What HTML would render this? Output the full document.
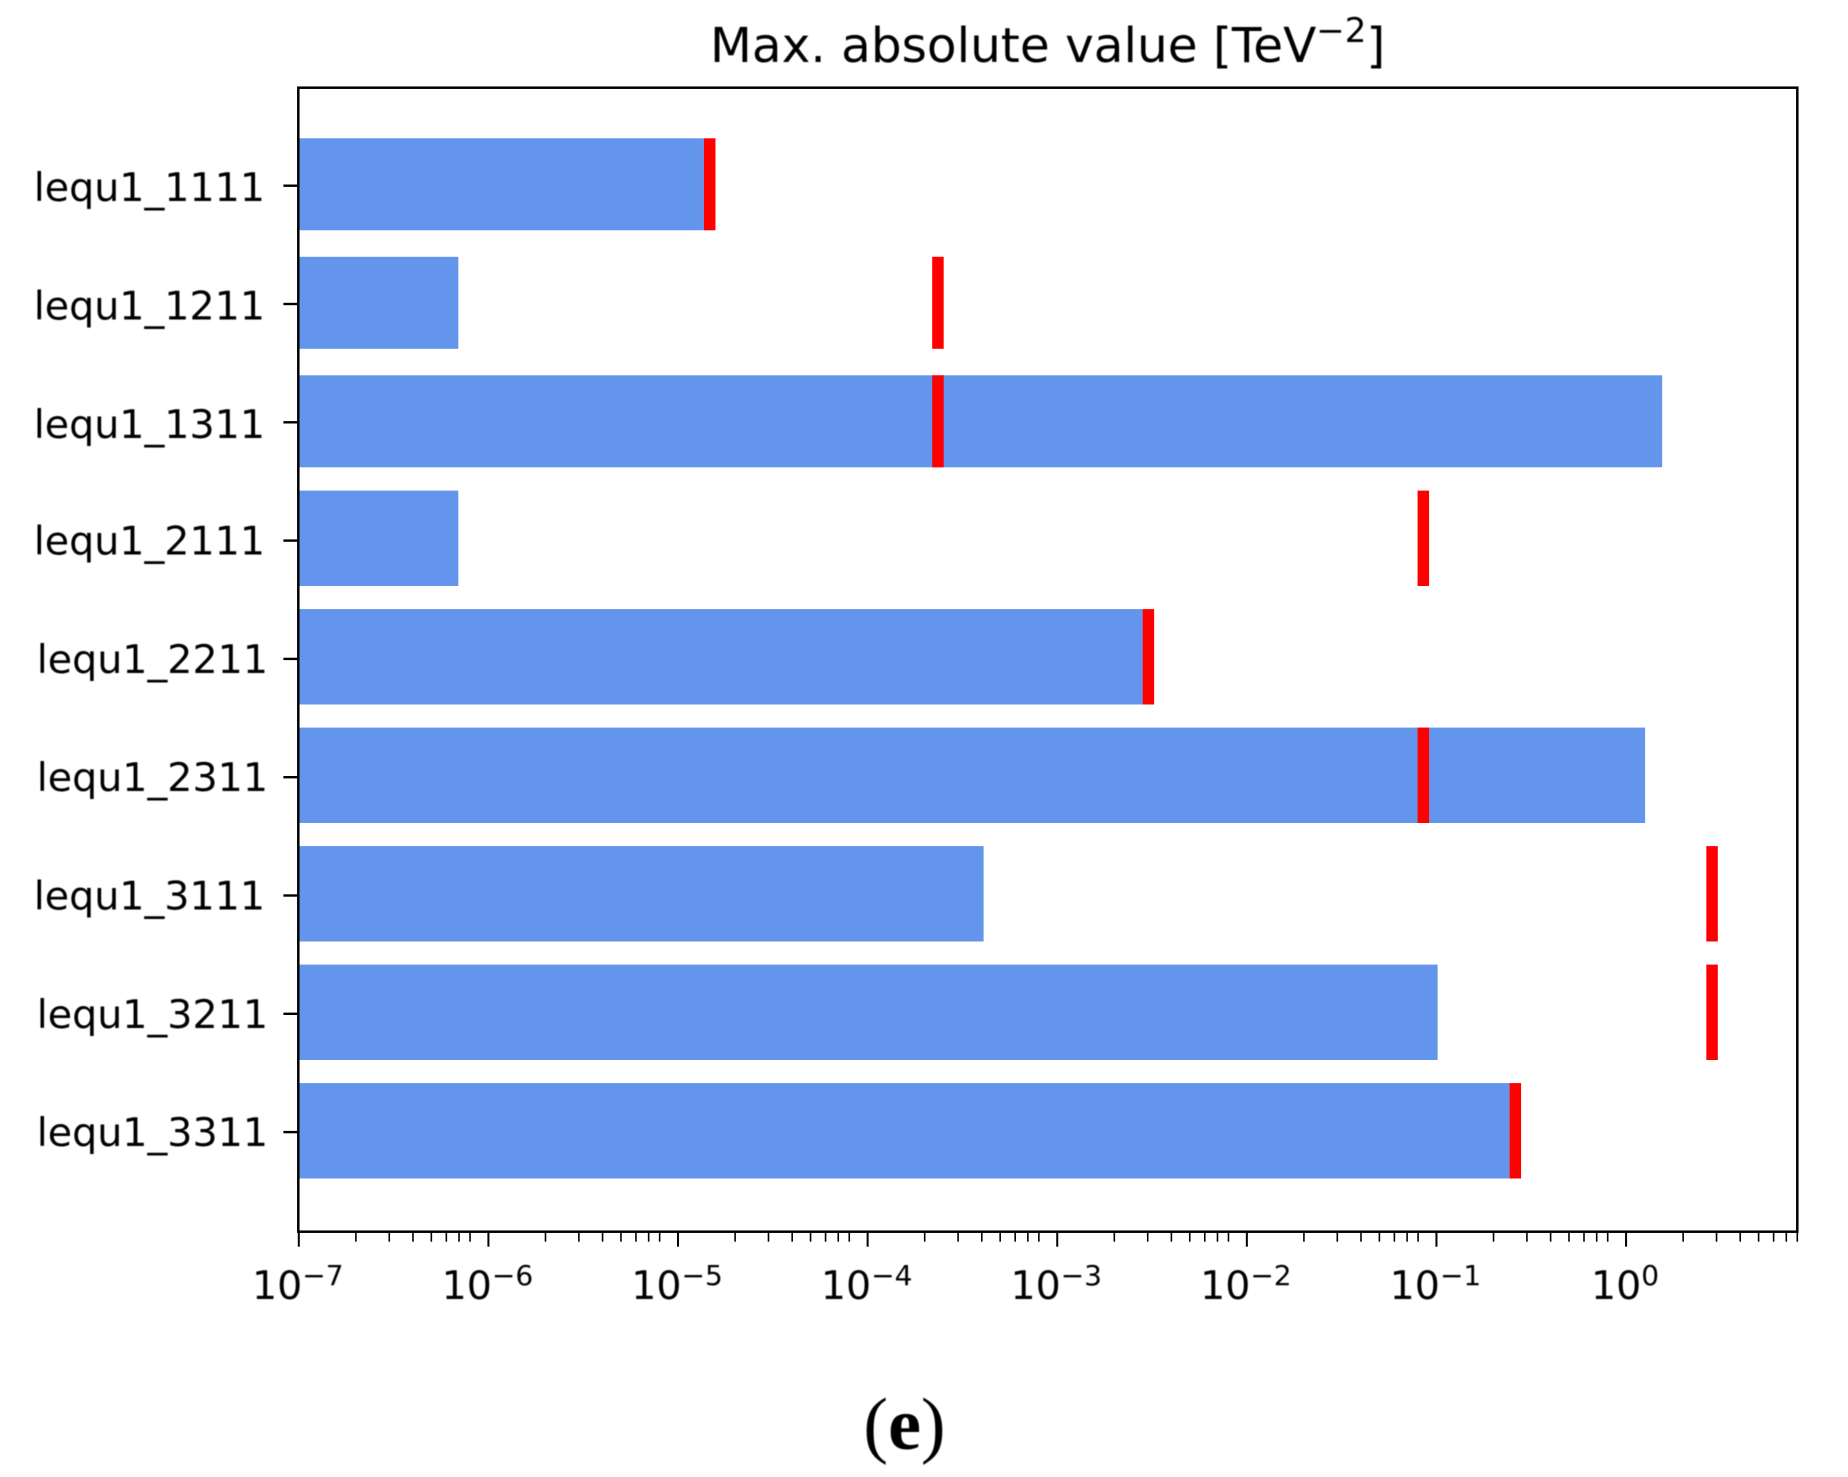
<!DOCTYPE html>
<html lang="en">
<head>
<meta charset="utf-8">
<title>Max. absolute value chart</title>
<style>
  html, body { margin: 0; padding: 0; background: #fff; }
  body { width: 1848px; height: 1477px; overflow: hidden; }
  svg { display: block; }
  text { font-family: "DejaVu Sans", sans-serif; fill: #000; }
  .soft { filter: blur(0.55px); }
  .caption { font-family: "Liberation Serif", serif; fill: #000; }
</style>
</head>
<body>
<svg id="chart" xmlns="http://www.w3.org/2000/svg" width="1848" height="1477" viewBox="0 0 1848 1477">
  <g id="bars"></g>
  <g id="limits"></g>
  <rect x="298.3" y="87.7" width="1499" height="1144" fill="none" stroke="#000" stroke-width="2.5"/>
  <g id="yticks"></g>
  <g id="xticks"></g>
  <text class="soft" x="1047.7" y="62" font-size="48.5" text-anchor="middle">Max. absolute value [TeV<tspan dy="-20" font-size="34">−2</tspan><tspan dy="20">]</tspan></text>
  <text class="caption soft" x="904.5" y="1449" font-size="74" text-anchor="middle">(<tspan font-weight="bold">e</tspan>)</text>
</svg>
<script>
const categories = ["lequ1_1111", "lequ1_1211", "lequ1_1311", "lequ1_2111", "lequ1_2211", "lequ1_2311", "lequ1_3111", "lequ1_3211", "lequ1_3311"];
const barValues = [1.37e-5, 6.94e-7, 1.55, 6.94e-7, 2.82e-3, 1.26, 4.09e-4, 0.1014, 0.243];
const limitValues = [1.37e-5, 2.19e-4, 2.19e-4, 0.0795, 2.82e-3, 0.0795, 2.65, 2.65, 0.243];
const tickExponents = [-7, -6, -5, -4, -3, -2, -1, 0];
const minorMultipliers = [2, 3, 4, 5, 6, 7, 8];

const SVG_NS = "http://www.w3.org/2000/svg";
const plotLeft = 298.8, plotRight = 1797.3, plotBottom = 1231.7;
const logMin = -7, logMax = Math.log10(8);
const limitWidthFactor = 1.15;

function xScale(v) {
  return plotLeft + (Math.log10(v) - logMin) * (plotRight - plotLeft) / (logMax - logMin);
}
function rowTop(i) {
  return i < 3 ? 138.3 + 118.5 * i : 135.1 + 118.5 * i;
}
function rowHeight(i) {
  return i < 3 ? 92 : 95.4;
}
function tickY(i) {
  return 185.7 + 118.3 * i;
}
function labelRight(cat) {
  return /_(22|23|32|33)/.test(cat) ? 268 : 265;
}
function labelY(i) {
  return tickY(i) + (i < 3 ? 15.5 : 14);
}
function make(tag, parent, attrs) {
  const el = document.createElementNS(SVG_NS, tag);
  for (const k in attrs) el.setAttribute(k, attrs[k]);
  parent.appendChild(el);
  return el;
}

const barsGroup = document.getElementById("bars");
const limitsGroup = document.getElementById("limits");
const yGroup = document.getElementById("yticks");
const xGroup = document.getElementById("xticks");

categories.forEach(function (cat, i) {
  const bar = make("rect", barsGroup, {
    x: plotLeft, y: rowTop(i),
    width: xScale(barValues[i]) - plotLeft, height: rowHeight(i),
    fill: "#6495ed"
  });
  
  

  const left = xScale(limitValues[i]);
  const marker = make("rect", limitsGroup, {
    x: left, y: rowTop(i),
    width: xScale(limitValues[i] * limitWidthFactor) - left, height: rowHeight(i),
    fill: "#ff0000"
  });
  
  

  const tick = make("line", yGroup, {
    x1: plotLeft - 15.4, x2: plotLeft, y1: tickY(i), y2: tickY(i),
    stroke: "#000", "stroke-width": 2.4
  });
  
  

  const label = make("text", yGroup, {
    x: labelRight(cat), y: labelY(i), "font-size": 39.6, "text-anchor": "end", class: "soft"
  });
  label.textContent = cat;
  
  
});

tickExponents.forEach(function (exp) {
  const px = xScale(Math.pow(10, exp));
  const major = make("line", xGroup, {
    x1: px, x2: px, y1: plotBottom, y2: plotBottom + 15,
    stroke: "#000", "stroke-width": 2
  });
  
  

  minorMultipliers.forEach(function (m) {
    const mx = xScale(m * Math.pow(10, exp));
    const minor = make("line", xGroup, {
      x1: mx, x2: mx, y1: plotBottom, y2: plotBottom + 10,
      stroke: "#000", "stroke-width": 1.6
    });
    
    
  });

  const label = make("text", xGroup, {
    x: px - 1, y: 1299, "font-size": 39.5, "text-anchor": "middle", class: "soft"
  });
  
  
  label.appendChild(document.createTextNode("10"));
  const sup = make("tspan", label, { dy: -14, "font-size": 28 });
  sup.textContent = (exp < 0 ? "\u2212" : "") + Math.abs(exp);
});
</script>
</body>
</html>
